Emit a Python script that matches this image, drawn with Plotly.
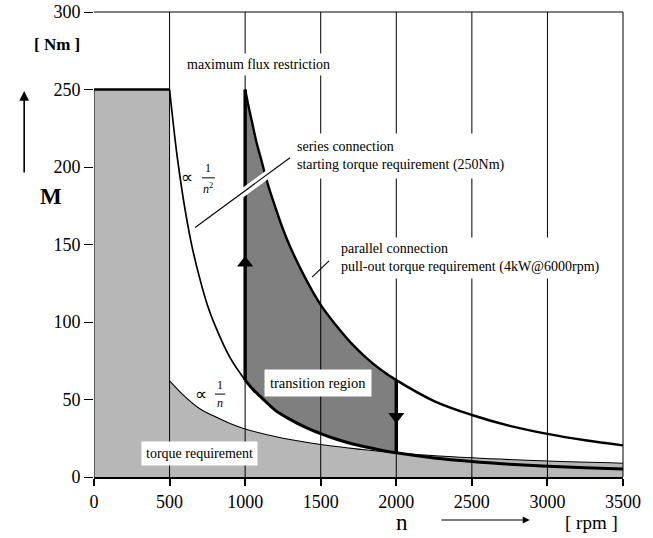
import plotly.graph_objects as go

# ---------------- data ----------------
# torque requirement: constant 250 Nm up to 500 rpm, then ~1/n
req_n = [0, 500, 500, 600, 700, 800, 900, 1000, 1250, 1500, 1750, 2000, 2500, 3000, 3500]
req_M = [250, 250, 62, 52, 44, 39, 34.5, 31, 25, 21, 18, 15.5, 12.4, 10.3, 8.9]

# maximum flux restriction curve (~1/n^2, starting 250 Nm @ 500 rpm)
flux_n = [500, 550, 600, 650, 700, 750, 800, 900, 1000, 1050, 1100, 1200, 1300, 1400, 1500,
          1600, 1700, 1800, 1900, 2000, 2250, 2500, 2750, 3000, 3250, 3500]
flux_M = [250, 207, 174, 148, 128, 111, 98, 77, 62.5, 56.7, 52, 43, 37, 32, 28,
          24.5, 21.6, 19.3, 17.3, 15.6, 12.3, 10, 8.3, 7, 5.9, 5.1]

# series connection curve (~1/n^2 starting 250 Nm @ 1000 rpm)
ser_n = [1000, 1025, 1050, 1075, 1100, 1150, 1200, 1250, 1300, 1400, 1500, 1600, 1700, 1800,
         1900, 2000, 2250, 2500, 2750, 3000, 3250, 3500]
ser_M = [250, 238, 227, 216, 207, 189, 174, 160, 148, 128, 111, 98, 86.5, 77,
         69, 62.5, 49, 40, 33, 27.8, 23.7, 20.4]

# switching speeds (transition arrows)
switch_up_n = 1000
switch_down_n = 2000

x_ticks = [0, 500, 1000, 1500, 2000, 2500, 3000, 3500]
y_ticks = [0, 50, 100, 150, 200, 250, 300]
grid_x = [500, 1000, 1500, 2000, 2500, 3000]

FONT = "Liberation Serif"
LIGHT = "#b7b7b7"
DARK = "#7f7f7f"

fig = go.Figure()

# light grey torque requirement area
fig.add_trace(go.Scatter(x=req_n + [3500, 0], y=req_M + [0, 0], mode="lines",
                         fill="toself", fillcolor=LIGHT, line=dict(width=0),
                         hoverinfo="skip", showlegend=False))

# dark transition region between series curve and flux curve (1000..2000 rpm)
i0 = flux_n.index(1000)
i1 = flux_n.index(2000)
j1 = ser_n.index(2000)
up_n = ser_n[:j1 + 1]
up_M = ser_M[:j1 + 1]
lo_n = flux_n[i0:i1 + 1][::-1]
lo_M = flux_M[i0:i1 + 1][::-1]
fig.add_trace(go.Scatter(x=up_n + lo_n, y=up_M + lo_M, mode="lines",
                         fill="toself", fillcolor=DARK, line=dict(width=0),
                         hoverinfo="skip", showlegend=False))

# vertical grid lines
gx, gy = [], []
for g in grid_x:
    gx += [g, g, None]
    gy += [0, 300, None]
fig.add_trace(go.Scatter(x=gx, y=gy, mode="lines", line=dict(color="black", width=1),
                         hoverinfo="skip", showlegend=False))

# torque requirement outline
fig.add_trace(go.Scatter(x=req_n[:2], y=req_M[:2], mode="lines",
                         line=dict(color="black", width=2.4), showlegend=False))
fig.add_trace(go.Scatter(x=req_n[2:], y=req_M[2:], mode="lines",
                         line=dict(color="black", width=1.1, shape="spline"), showlegend=False))
fig.add_trace(go.Scatter(x=[0, 0], y=[0, 250], mode="lines",
                         line=dict(color="black", width=1), showlegend=False))

# flux restriction curve: thin up to 1000 rpm, thick afterwards
fig.add_trace(go.Scatter(x=flux_n[:i0 + 1], y=flux_M[:i0 + 1], mode="lines",
                         line=dict(color="black", width=1.7, shape="spline"), showlegend=False))
fig.add_trace(go.Scatter(x=flux_n[i0:], y=flux_M[i0:], mode="lines",
                         line=dict(color="black", width=3, shape="spline"), showlegend=False))

# series connection curve
fig.add_trace(go.Scatter(x=ser_n, y=ser_M, mode="lines",
                         line=dict(color="black", width=2.4, shape="spline"), showlegend=False))

# transition verticals
fig.add_trace(go.Scatter(x=[switch_up_n, switch_up_n], y=[flux_M[i0], ser_M[0]], mode="lines",
                         line=dict(color="black", width=3.4), showlegend=False))
fig.add_trace(go.Scatter(x=[switch_down_n, switch_down_n], y=[flux_M[i1], ser_M[j1]], mode="lines",
                         line=dict(color="black", width=3.4), showlegend=False))
# arrow heads
fig.add_trace(go.Scatter(x=[switch_up_n], y=[138], mode="markers",
                         marker=dict(symbol="triangle-up", size=14, color="black"), showlegend=False))
fig.add_trace(go.Scatter(x=[switch_down_n], y=[39], mode="markers",
                         marker=dict(symbol="triangle-down", size=14, color="black"), showlegend=False))

shapes = [
    # frame top and right
    dict(type="line", xref="paper", yref="paper", x0=0, x1=1, y0=1, y1=1,
         line=dict(color="black", width=1)),
    dict(type="line", xref="paper", yref="paper", x0=1, x1=1, y0=0, y1=1,
         line=dict(color="black", width=1)),
    # white band behind series leader line
    dict(type="line", xref="x", yref="y", x0=950, y0=181, x1=1210, y1=199.5,
         line=dict(color="white", width=8), layer="above"),
    # series leader line
    dict(type="line", xref="x", yref="y", x0=669, y0=161, x1=1297, y1=206,
         line=dict(color="black", width=1.1), layer="above"),
    # parallel leader line
    dict(type="line", xref="x", yref="y", x0=1443, y0=129, x1=1555, y1=139.5,
         line=dict(color="black", width=1.1), layer="above"),
    # fraction bars
    dict(type="line", xref="x", yref="y", x0=715, y0=193, x1=800, y1=193,
         line=dict(color="black", width=1), layer="above"),
    dict(type="line", xref="x", yref="y", x0=800, y0=53.5, x1=868, y1=53.5,
         line=dict(color="black", width=1), layer="above"),
]

def ann(text, x, y, size=14, xanchor="center", align="center", bg="white", pad=2, **kw):
    d = dict(text=text, x=x, y=y, xref="x", yref="y", showarrow=False,
             font=dict(family=FONT, size=size, color="black"), xanchor=xanchor,
             yanchor="middle", align=align, bgcolor=bg, borderpad=pad)
    d.update(kw)
    return d

def pann(text, x, y, size, bold=False):
    return dict(text=("<b>%s</b>" % text) if bold else text, x=x, y=y,
                xref="paper", yref="paper", showarrow=False,
                xanchor="center", yanchor="middle",
                font=dict(family=FONT, size=size, color="black"))

annotations = [
    ann("maximum flux restriction", 1086, 266, pad=3),
    ann("series connection<br>starting torque requirement (250Nm)", 1305, 207,
        xanchor="left", align="left", pad=5),
    ann("parallel connection<br>pull-out torque requirement (4kW@6000rpm)", 1610, 141,
        xanchor="left", align="left", pad=3),
    ann("torque requirement", 695, 15, pad=4),
    ann("transition region", 1483, 60.5, size=14.5, pad=5),
    ann("∝", 612, 193, size=17, bg=None, pad=0),
    ann("1", 757, 199.5, size=12, bg=None, pad=0),
    ann("<i>n</i><sup>2</sup>", 757, 186, size=12, bg=None, pad=0),
    ann("∝", 705, 53.5, size=17, bg=None, pad=0),
    ann("1", 834, 59.5, size=12, bg=None, pad=0),
    ann("<i>n</i>", 834, 48, size=12, bg=None, pad=0),
    # axis titles
    pann("[ Nm ]", -0.07, 0.93, 17, bold=True),
    pann("M", -0.082, 0.603, 23, bold=True),
    dict(text="", x=-0.132, y=0.83, xref="paper", yref="paper", showarrow=True,
         ax=0, ay=83, axref="pixel", ayref="pixel", arrowhead=2, arrowsize=1.2,
         arrowwidth=1.6, arrowcolor="black"),
    pann("n", 0.582, -0.097, 23),
    dict(text="", x=0.824, y=-0.0925, xref="paper", yref="paper", showarrow=True,
         ax=-90, ay=0, axref="pixel", ayref="pixel", arrowhead=2, arrowsize=1.2,
         arrowwidth=1.2, arrowcolor="black"),
    pann("[ rpm ]", 0.94, -0.097, 19),
]

fig.update_layout(
    width=653, height=538,
    margin=dict(l=94, r=30, t=12, b=61),
    plot_bgcolor="white", paper_bgcolor="white",
    shapes=shapes, annotations=annotations,
    showlegend=False,
    xaxis=dict(range=[0, 3500], tickvals=x_ticks, ticktext=[str(v) for v in x_ticks],
               showgrid=False, zeroline=False, showline=True, linecolor="black", linewidth=2,
               ticks="outside", ticklen=7, tickcolor="black", tickwidth=1.5, automargin=False,
               tickfont=dict(family=FONT, size=18, color="black")),
    yaxis=dict(range=[0, 300], tickvals=y_ticks, ticktext=[str(v) for v in y_ticks],
               showgrid=False, zeroline=False, showline=False, automargin=False,
               ticks="outside", ticklen=9, tickcolor="black", tickwidth=1.2,
               tickfont=dict(family=FONT, size=18, color="black")),
)

fig.write_html("out.html", config={"displayModeBar": False},
               post_script="document.body.style.margin='0';")
